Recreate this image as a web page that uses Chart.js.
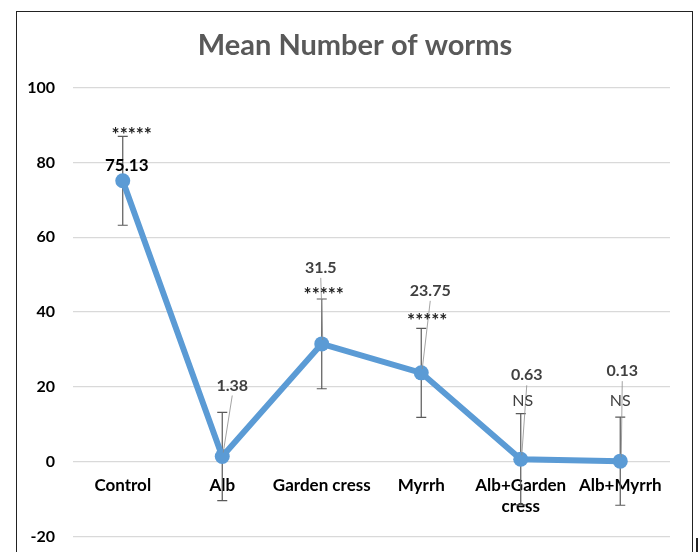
<!DOCTYPE html>
<html>
<head>
<meta charset="utf-8">
<script src="https://cdn.jsdelivr.net/npm/chart.js@4.4.1/dist/chart.umd.min.js"></script>
<style>
  body { margin: 0; background: #fff; }
  #wrap { position: relative; width: 700px; height: 552px; overflow: hidden; }
  #frame { position: absolute; left: 16px; top: 11px; width: 675px; height: 600px; border: 1.5px solid #222; }
  #tick { position: absolute; left: 696px; top: 538px; width: 1.5px; height: 20px; background: #222; }
  canvas { position: absolute; left: 0; top: 0; }
</style>
</head>
<body>
<div id="wrap">
  <div id="frame"></div>
  <div id="tick"></div>
  <canvas id="wormChart" width="700" height="564"></canvas>
</div>
<script>
// Chart values
const categories = ['Control', 'Alb', 'Garden cress', 'Myrrh', ['Alb+Garden', 'cress'], 'Alb+Myrrh'];
const meanWorms = [75.13, 1.38, 31.5, 23.75, 0.63, 0.13];
const errorSize = [11.9, 11.8, 12, 11.9, 12.2, 11.8];
const signif = ['*****', '', '*****', '*****', 'NS', 'NS'];
const yTicks = [-20, 0, 20, 40, 60, 80, 100];

const FONT = 'Lato, "Open Sans", sans-serif';

// Error bars, drawn behind the line
const errorBars = {
    id: 'errorBars',
    beforeDatasetsDraw(chart) {
        const ctx = chart.ctx;
        const x = chart.scales.x, y = chart.scales.y;
        ctx.save();
        ctx.strokeStyle = '#5a5a5a';
        ctx.lineWidth = 1.2;
        meanWorms.forEach((v, i) => {
            const px = x.getPixelForValue(i);
            const top = y.getPixelForValue(v + errorSize[i]);
            const bot = y.getPixelForValue(v - errorSize[i]);
            ctx.beginPath();
            ctx.moveTo(px, top); ctx.lineTo(px, bot);
            ctx.moveTo(px - 5, top); ctx.lineTo(px + 5, top);
            ctx.moveTo(px - 5, bot); ctx.lineTo(px + 5, bot);
            ctx.stroke();
        });
        ctx.restore();
    }
};

// Data labels with leader lines and significance marks
const dataLabels = {
    id: 'dataLabels',
    afterDatasetsDraw(chart) {
        const ctx = chart.ctx;
        const x = chart.scales.x, y = chart.scales.y;
        // pixel offsets from the point: [value dx, value dy, mark dx, mark dy, leader]
        const place = [
            [4, -15, 9, -50, false],
            [10, -71, 0, 0, true],
            [-1, -76, 2, -53, true],
            [9, -82, 6, -56, true],
            [6, -84, 2, -58, true],
            [2, -90, 0, -60, true]
        ];
        ctx.save();
        ctx.textAlign = 'center';
        ctx.textBaseline = 'middle';
        meanWorms.forEach((v, i) => {
            const px = x.getPixelForValue(i);
            const py = y.getPixelForValue(v);
            const p = place[i];
            if (p[4]) {
                ctx.strokeStyle = '#8c8c8c';
                ctx.lineWidth = 0.8;
                ctx.beginPath();
                ctx.moveTo(px + p[0], py + p[1] + 10);
                ctx.lineTo(px + 1, py - 4);
                ctx.stroke();
            }
            ctx.fillStyle = i === 0 ? '#000' : '#404040';
            ctx.font = 'bold ' + (i === 0 ? 17 : 16) + 'px ' + FONT;
            ctx.fillText(String(v), px + p[0], py + p[1]);
            if (signif[i]) {
                if (signif[i] === 'NS') {
                    ctx.font = '16px ' + FONT;
                    ctx.fillStyle = '#404040';
                    ctx.fillText(signif[i], px + p[2], py + p[3]);
                } else {
                    ctx.font = 'bold 19px ' + FONT;
                    ctx.fillStyle = '#222';
                    ctx.fillText(signif[i], px + p[2], py + p[3] + 4);
                }
            }
        });
        ctx.restore();
    }
};

const ctx = document.getElementById('wormChart').getContext('2d');
const wormChart = new Chart(ctx, {
    type: 'line',
    data: {
        labels: categories,
        datasets: [{
            label: 'Mean Number of worms',
            data: meanWorms,
            borderColor: '#5b9bd5',
            backgroundColor: '#5b9bd5',
            borderWidth: 6,
            pointRadius: 7.5,
            pointHoverRadius: 7.5,
            pointBorderWidth: 0,
            tension: 0
        }]
    },
    options: {
        responsive: false,
        animation: false,
        layout: { padding: { left: 10, right: 0, top: 0, bottom: 5 } },
        plugins: {
            legend: { display: false },
            tooltip: { enabled: false },
            title: {
                display: true,
                text: 'Mean Number of worms',
                color: '#595959',
                font: { family: FONT, size: 29, weight: 'bold', lineHeight: 1.2 },
                padding: { top: 28, bottom: 25 }
            }
        },
        scales: {
            x: {
                position: { y: 0 },
                offset: true,
                grid: { display: false, drawTicks: false },
                border: { display: false },
                ticks: {
                    color: '#000',
                    padding: 14,
                    maxRotation: 0,
                    autoSkip: false,
                    font: { family: FONT, size: 17, weight: 'bold' }
                },
                afterFit(scale) { scale.height = 0; }
            },
            y: {
                min: -20,
                max: 100,
                afterBuildTicks(scale) { scale.ticks = yTicks.map(v => ({ value: v })); },
                grid: { color: '#d9d9d9', lineWidth: 1.3, drawTicks: false },
                border: { display: false },
                ticks: {
                    color: '#000',
                    padding: 18,
                    font: { family: FONT, size: 16, weight: 'bold' }
                },
                afterFit(scale) { scale.width = 63; }
            },
            yRight: {
                position: 'right',
                min: -20,
                max: 100,
                grid: { display: false },
                border: { display: false },
                ticks: { display: false },
                afterFit(scale) { scale.width = 30; }
            }
        }
    },
    plugins: [errorBars, dataLabels]
});
</script>
</body>
</html>
